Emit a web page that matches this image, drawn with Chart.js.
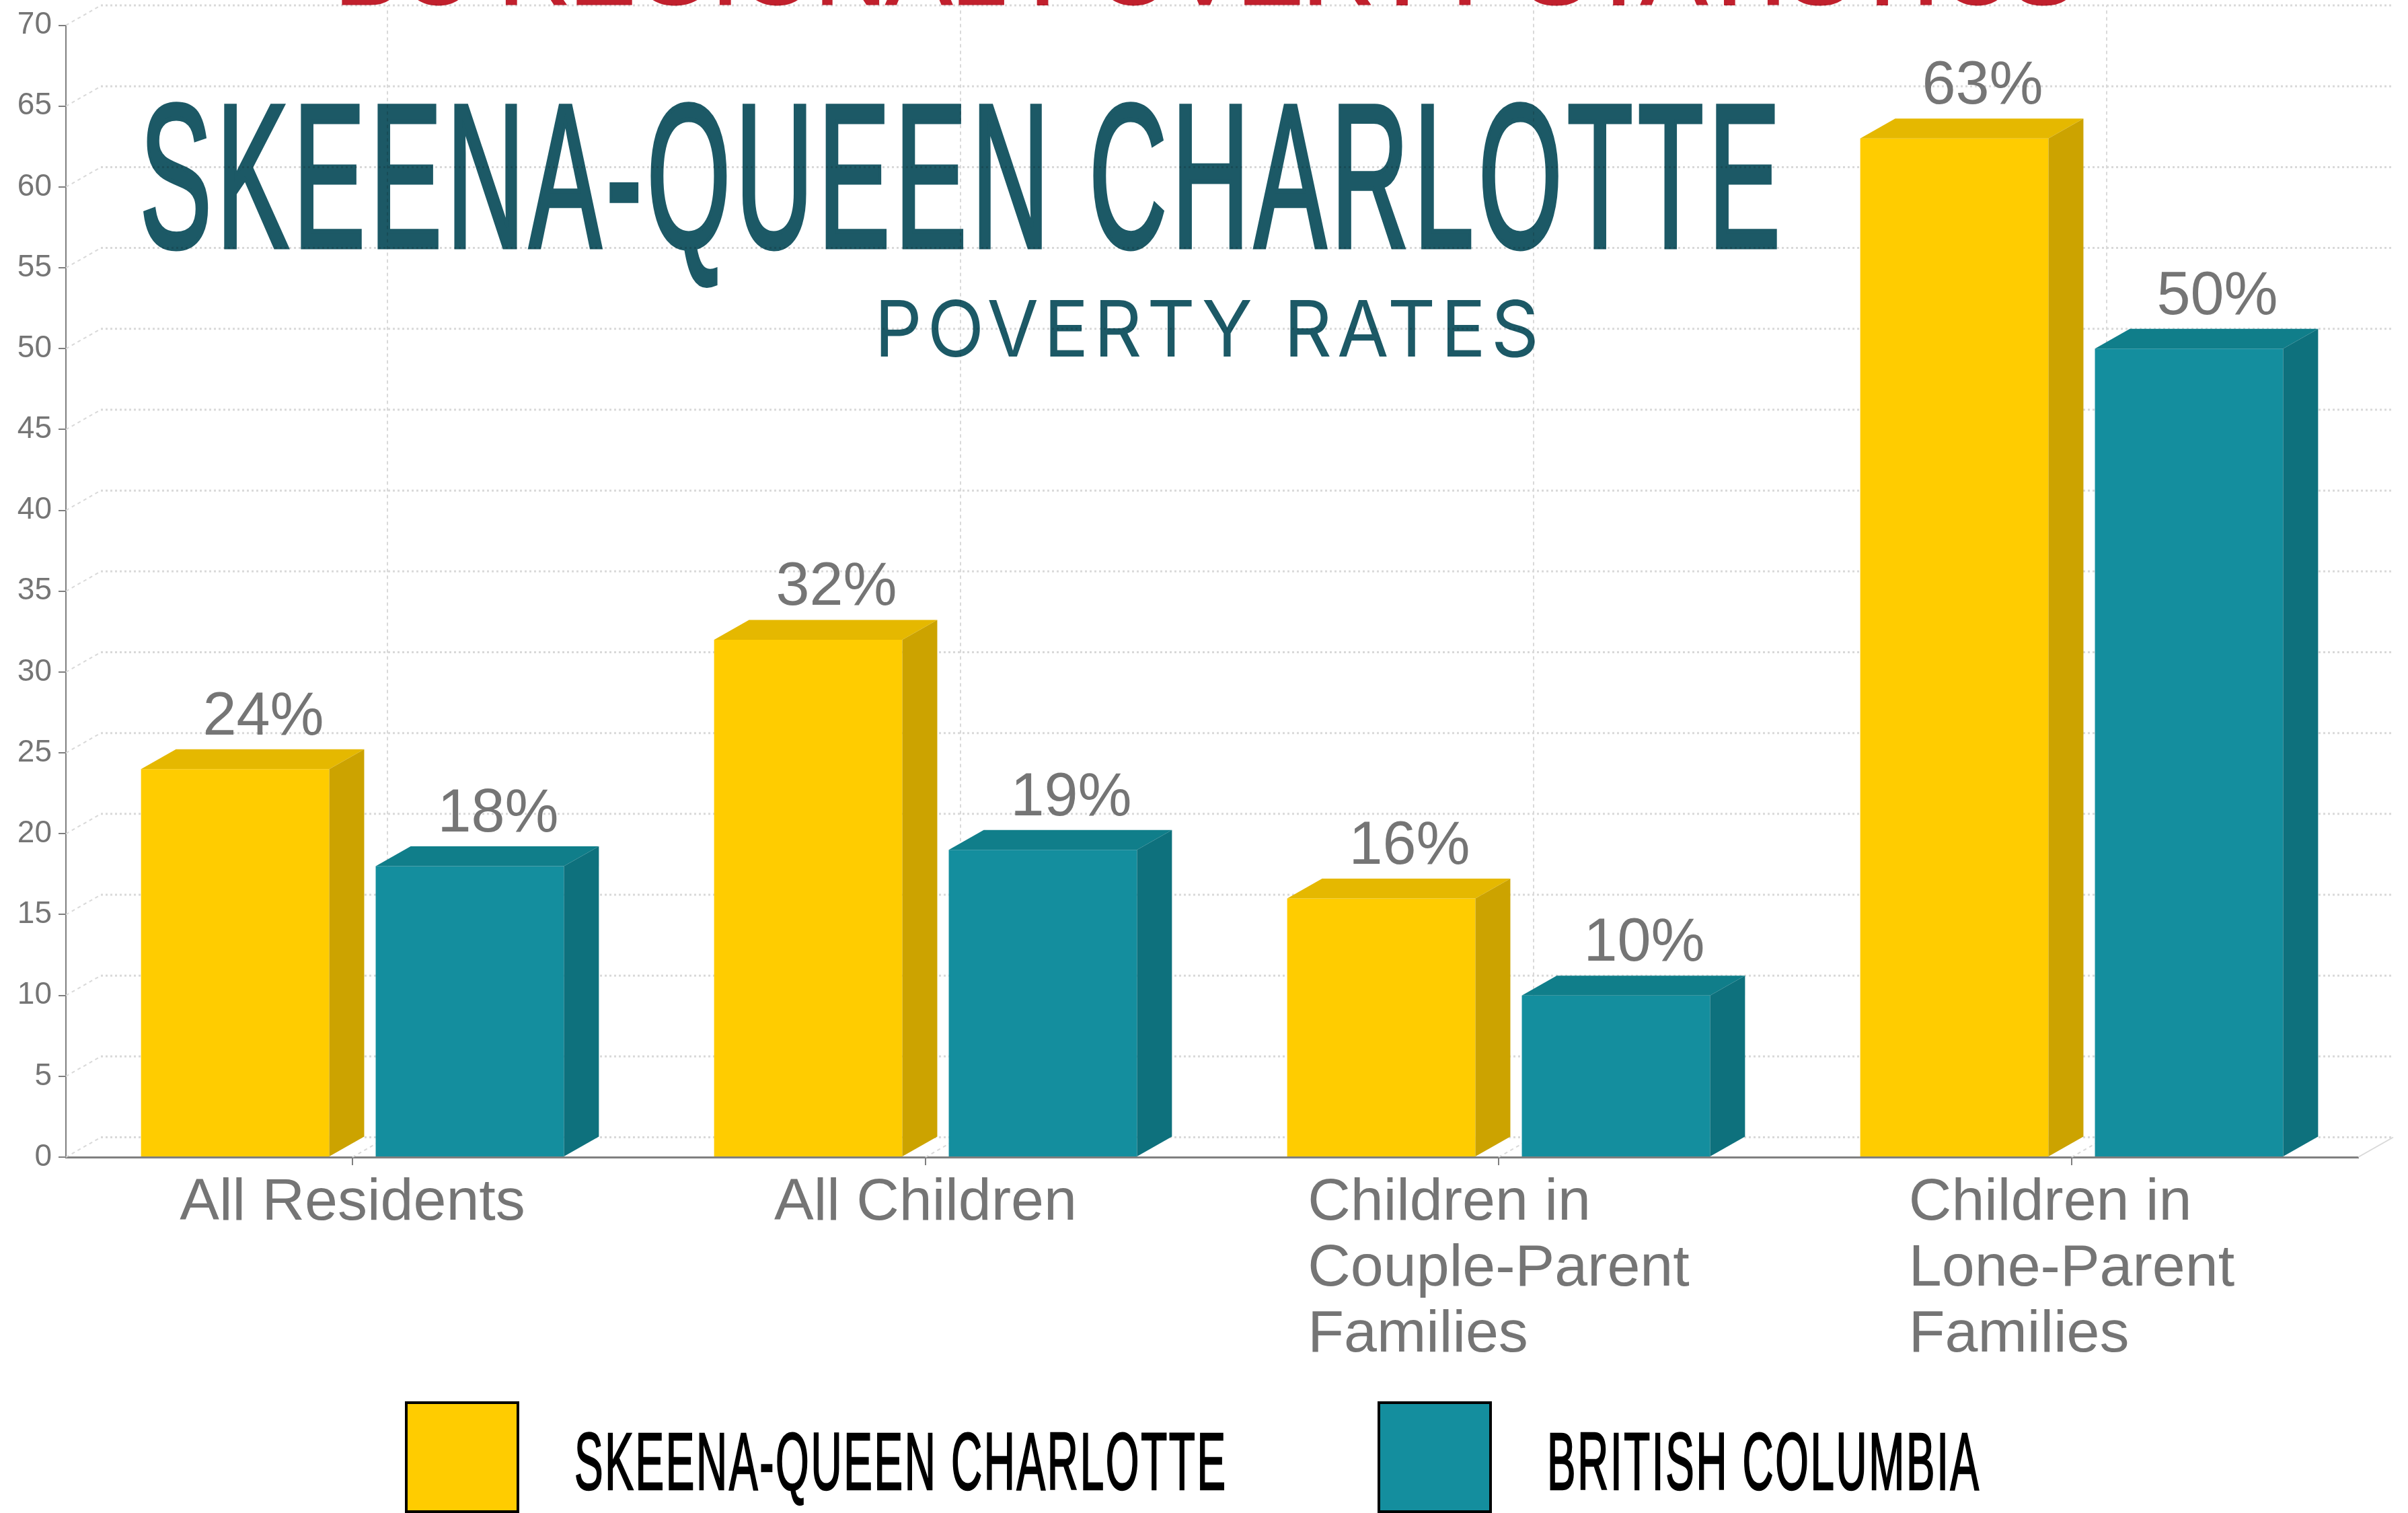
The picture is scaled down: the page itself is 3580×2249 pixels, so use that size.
<!DOCTYPE html>
<html lang="en">
<head>
<meta charset="UTF-8">
<title>Skeena-Queen Charlotte Poverty Rates</title>
<style>
    body { margin: 0; background: #fff; }
    #page { position: relative; width: 3580px; height: 2249px; overflow: hidden; }
    #chart { position: absolute; left: 0; top: 0; }
    .fit { position: absolute; white-space: nowrap; line-height: 1; transform-origin: 0 0; }
    .swatch { position: absolute; box-sizing: border-box; border: 4px solid #000; }
</style>
</head>
<body>
<div id="page">
    <canvas id="chart" width="3580" height="2249"></canvas>
</div>

<script src="https://cdn.jsdelivr.net/npm/chart.js"></script>
<script>
const categories = [
    ['All Residents'],
    ['All Children'],
    ['Children in', 'Couple-Parent', 'Families'],
    ['Children in', 'Lone-Parent', 'Families']
];
const skeenaValues = [24, 32, 16, 63];
const bcValues = [18, 19, 10, 50];
const seriesNames = ['SKEENA-QUEEN CHARLOTTE', 'BRITISH COLUMBIA'];
const frontColors = ['#FFCC00', '#148E9E'];
const topColors = ['#E5B800', '#107E8A'];
const sideColors = ['#CCA300', '#0E717D'];
const yTicks = [0, 70, 5];

const TEXT_GREY = '#757575';
const GRID_GREY = '#d9d9d9';
const DEPTH_X = 52;
const DEPTH_Y = 29.5;

function line(ctx, x1, y1, x2, y2) {
    ctx.beginPath();
    ctx.moveTo(x1, y1);
    ctx.lineTo(x2, y2);
    ctx.stroke();
}

function poly(ctx, pts, color) {
    ctx.fillStyle = color;
    ctx.beginPath();
    pts.forEach((p, i) => i ? ctx.lineTo(p[0], p[1]) : ctx.moveTo(p[0], p[1]));
    ctx.closePath();
    ctx.fill();
}

// back wall and floor of the fake 3D box
const wallsPlugin = {
    id: 'walls',
    beforeDatasetsDraw(chart) {
        const ctx = chart.ctx, x = chart.scales.x, y = chart.scales.y, area = chart.chartArea;
        ctx.save();
        ctx.strokeStyle = GRID_GREY;

        y.ticks.forEach(t => {
            const py = y.getPixelForValue(t.value);
            ctx.lineWidth = 2;
            ctx.setLineDash([5, 5]);
            line(ctx, area.left, py, area.left + DEPTH_X, py - DEPTH_Y);
            ctx.lineWidth = 3;
            ctx.setLineDash([3, 4]);
            line(ctx, area.left + DEPTH_X, py - DEPTH_Y, area.right + DEPTH_X, py - DEPTH_Y);
        });

        ctx.lineWidth = 2;
        ctx.setLineDash([5, 5]);
        x.ticks.forEach((t, i) => {
            const px = x.getPixelForTick(i);
            line(ctx, px, area.bottom, px + DEPTH_X, area.bottom - DEPTH_Y);
            line(ctx, px + DEPTH_X, area.bottom - DEPTH_Y, px + DEPTH_X, area.top - DEPTH_Y);
        });

        ctx.setLineDash([]);
        line(ctx, area.right, area.bottom, area.right + DEPTH_X, area.bottom - DEPTH_Y);
        ctx.restore();
    }
};

// top and side faces of the bars, and the value labels
const barsPlugin = {
    id: 'bars3d',
    afterDatasetsDraw(chart) {
        const ctx = chart.ctx;
        chart.data.datasets.forEach((ds, d) => {
            chart.getDatasetMeta(d).data.forEach((bar, i) => {
                const x1 = bar.x - bar.width / 2, x2 = bar.x + bar.width / 2;
                const top = bar.y, base = bar.base;
                poly(ctx, [[x1, top], [x1 + DEPTH_X, top - DEPTH_Y], [x2 + DEPTH_X, top - DEPTH_Y], [x2, top]], topColors[d]);
                poly(ctx, [[x2, top], [x2 + DEPTH_X, top - DEPTH_Y], [x2 + DEPTH_X, base - DEPTH_Y], [x2, base]], sideColors[d]);

                ctx.fillStyle = TEXT_GREY;
                ctx.font = '90px "Liberation Sans"';
                ctx.textAlign = 'center';
                ctx.textBaseline = 'alphabetic';
                ctx.fillText(ds.data[i] + '%', bar.x + 42, top - DEPTH_Y - 22);
            });
        });
    },
    // category labels are left aligned inside a centred block, which the ticks can't do
    afterDraw(chart) {
        const ctx = chart.ctx, x = chart.scales.x;
        ctx.save();
        ctx.fillStyle = TEXT_GREY;
        ctx.font = '88px "Liberation Sans"';
        ctx.textAlign = 'left';
        ctx.textBaseline = 'alphabetic';
        chart.data.labels.forEach((lines, i) => {
            const w = Math.max(...lines.map(l => ctx.measureText(l).width));
            const left = x.getPixelForTick(i) - w / 2;
            lines.forEach((l, n) => ctx.fillText(l, left, chart.chartArea.bottom + 93 + n * 98));
        });
        ctx.restore();
    }
};

new Chart(document.getElementById('chart'), {
    type: 'bar',
    data: {
        labels: categories,
        datasets: [
            { label: seriesNames[0], data: skeenaValues, backgroundColor: frontColors[0], borderWidth: 0, categoryPercentage: 0.819, barPercentage: 0.802 },
            { label: seriesNames[1], data: bcValues, backgroundColor: frontColors[1], borderWidth: 0, categoryPercentage: 0.819, barPercentage: 0.802 }
        ]
    },
    options: {
        responsive: false,
        animation: false,
        layout: { padding: { top: 33, right: 74, left: 0, bottom: 0 } },
        plugins: { legend: { display: false }, tooltip: { enabled: false }, title: { display: false } },
        scales: {
            x: {
                z: 1,
                afterFit(s) { s.height = 529; },
                border: { color: '#7f7f7f', width: 3 },
                grid: { offset: false, drawOnChartArea: false, color: '#7f7f7f', lineWidth: 2, tickLength: 12 },
                ticks: { display: false, autoSkip: false, maxRotation: 0 }
            },
            y: {
                min: yTicks[0],
                max: yTicks[1],
                afterFit(s) { s.width = 98; },
                border: { color: '#7f7f7f', width: 2 },
                grid: { drawOnChartArea: false, color: '#7f7f7f', lineWidth: 2, tickLength: 11 },
                ticks: { stepSize: yTicks[2], padding: 10, color: TEXT_GREY, font: { family: '"Liberation Sans"', size: 46 } }
            }
        }
    },
    plugins: [wallsPlugin, barsPlugin]
});

// headings and legend: condensed display type, squeezed to the measured width
const page = document.getElementById('page');

function addText(text, left, right, baseline, size, color, css) {
    const el = document.createElement('div');
    el.className = 'fit';
    el.textContent = text;
    el.style.cssText = 'left:' + left + 'px;top:' + (baseline - 0.84 * size) + 'px;font-size:' + size + 'px;color:' + color + ';' + css;
    page.appendChild(el);
    el.style.transform = 'scaleX(' + (right - left) / el.offsetWidth + ')';
}

const DISPLAY = 'font-family:"Liberation Sans";';
addText('BC REGIONAL POVERTY STATISTICS', 498, 3087, 6, 140, '#C1202D', DISPLAY + '-webkit-text-stroke:3px #C1202D;mix-blend-mode:multiply;');
addText('SKEENA-QUEEN CHARLOTTE', 208, 2654, 365, 304, '#1C5966', DISPLAY + 'letter-spacing:14px;-webkit-text-stroke:7px #1C5966;mix-blend-mode:multiply;');
addText('POVERTY RATES', 1300, 2296, 528, 115, '#1C5966', 'font-family:Inter;letter-spacing:8px;mix-blend-mode:multiply;');

[602, 2048].forEach((left, i) => {
    const box = document.createElement('div');
    box.className = 'swatch';
    box.style.cssText = 'left:' + left + 'px;top:2083px;width:170px;height:166px;background:' + frontColors[i];
    page.appendChild(box);
});
addText(seriesNames[0], 854, 1825, 2213, 120, '#000', DISPLAY + 'letter-spacing:5px;-webkit-text-stroke:2.5px #000;');
addText(seriesNames[1], 2300, 2945, 2213, 120, '#000', DISPLAY + 'letter-spacing:5px;-webkit-text-stroke:2.5px #000;');
</script>
</body>
</html>
